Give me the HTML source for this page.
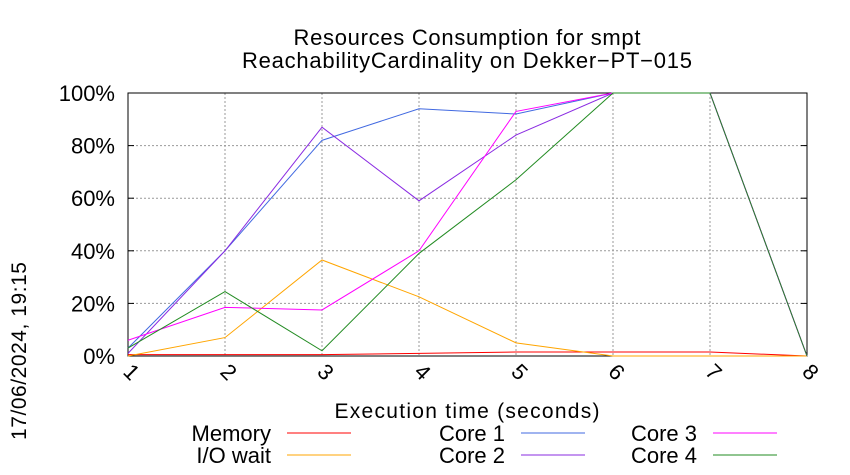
<!DOCTYPE html>
<html><head><meta charset="utf-8"><style>body{margin:0;background:#fff}svg{display:block;font-family:"Liberation Sans",sans-serif}</style></head>
<body>
<svg id="c" width="850" height="475">
<text x="467" y="45" font-size="22" text-anchor="middle" textLength="347">Resources Consumption for smpt</text>
<text x="467" y="68" font-size="22" text-anchor="middle" textLength="450">ReachabilityCardinality on Dekker−PT−015</text>
<text transform="translate(26,351) rotate(-90)" font-size="21" text-anchor="middle" textLength="178">17/06/2024, 19:15</text>
<text x="467" y="418" font-size="21" text-anchor="middle" textLength="265">Execution time (seconds)</text>
<g id="grid"></g><g id="series"></g><g id="legend"></g>
</svg>
<script>
const xTicks=[1,2,3,4,5,6,7,8];
const yTicks=[0,20,40,60,80,100];
const seriesNames=["Memory","I/O wait","Core 1","Core 2","Core 3","Core 4"];
const memory=[0.5,0.5,0.5,1,1.5,1.5,1.5,0];
const ioWait=[0,7,36.5,22.5,5,0,0,0];
const core1=[3,40,82,94,92,100,100,0];
const core2=[1,40,87,59,84,100,100,0];
const core3=[6,18.5,17.5,40,93,100,100,0];
const core4=[3,24.5,2,39,67,100,100,0];
const colors=["#ff0000","#ffa500","#4169e1","#8a2be2","#ff00ff","#228b22"];
const L=128,R=807,T=93,B=356,NS="http://www.w3.org/2000/svg";
const X=v=>L+(v-1)*(R-L)/7, Y=v=>B-v*(B-T)/100;
function mk(t,a,p){const e=document.createElementNS(NS,t);for(const k in a)e.setAttribute(k,a[k]);p.appendChild(e);return e;}
const g=document.getElementById('grid');
yTicks.forEach(v=>{
 const l=mk('line',{x1:L,x2:R,y1:Y(v),y2:Y(v),stroke:'#999','stroke-dasharray':'2,2'},g);
 
 
 const t=mk('text',{x:L-13,y:Y(v)+8,'font-size':22,'text-anchor':'end'},g);t.textContent=v+'%';
 
 
 mk('line',{x1:L,x2:L+6,y1:Y(v),y2:Y(v),stroke:'#000'},g);mk('line',{x1:R,x2:R-6,y1:Y(v),y2:Y(v),stroke:'#000'},g);
});
xTicks.forEach(v=>{
 const l=mk('line',{x1:X(v),x2:X(v),y1:T,y2:B,stroke:'#999','stroke-dasharray':'2,2'},g);
 
 
 const t=mk('text',{transform:`translate(${X(v)-6},${B+17}) rotate(45)`,'font-size':22},g);t.textContent=v;
 
 
});
const border=mk('rect',{x:L,y:T,width:R-L,height:B-T,fill:'none',stroke:'#000'},g);


const data=[memory,ioWait,core1,core2,core3,core4];
const s=document.getElementById('series'),lg=document.getElementById('legend');
const lx=[271,505,697],ly=[433,455];
data.forEach((d,i)=>{
 const p=mk('polyline',{points:d.map((v,j)=>X(xTicks[j])+','+Y(v)).join(' '),fill:'none',stroke:colors[i],'stroke-width':1},s);
 
 
 const c=Math.floor(i/2),r=i%2;
 const t=mk('text',{x:lx[c],y:ly[r]+8,'font-size':22,'text-anchor':'end'},lg);t.textContent=seriesNames[i];
 
 
 const ln=mk('line',{x1:lx[c]+16,x2:lx[c]+80,y1:ly[r],y2:ly[r],stroke:colors[i]},lg);
 
 
});
</script>
</body></html>
